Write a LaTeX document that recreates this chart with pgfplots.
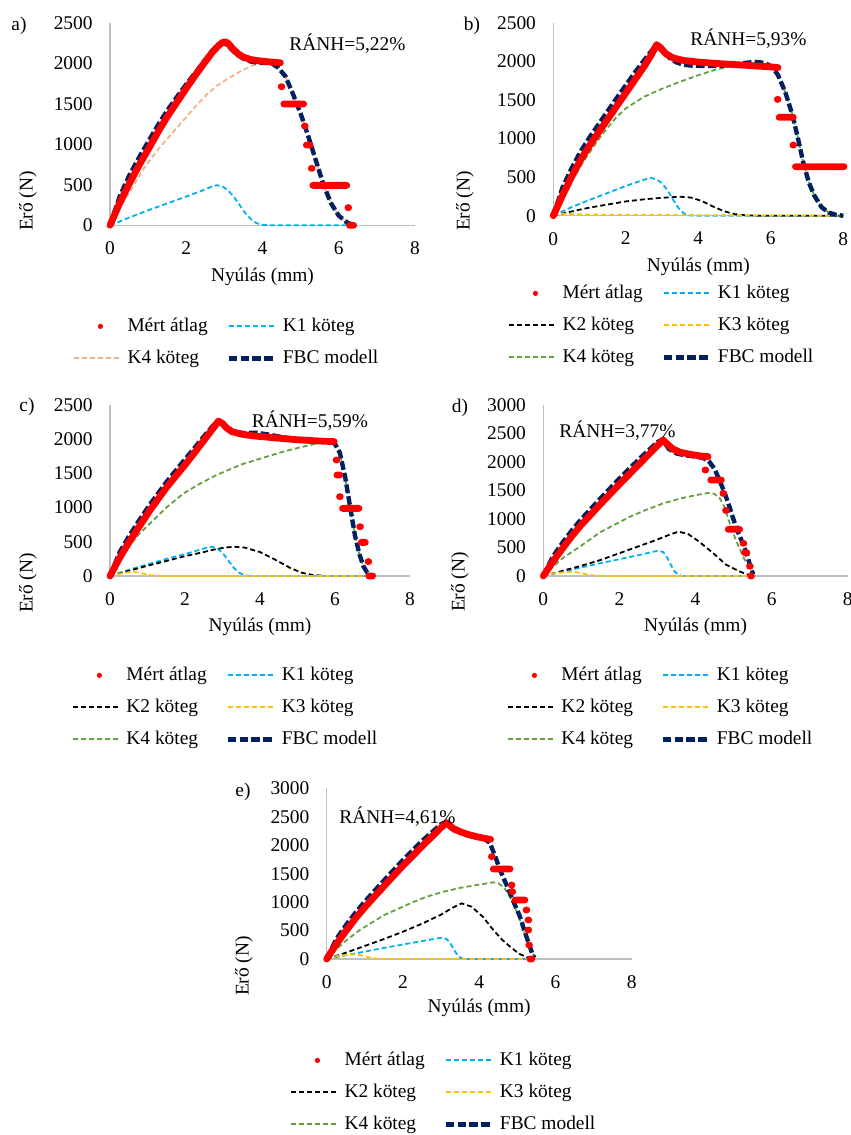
\documentclass[border=0pt]{standalone}
\usepackage{fontspec}
\setmainfont{Liberation Serif}
\usepackage{pgfplots}
\pgfplotsset{compat=1.18}
\definecolor{axgray}{HTML}{BFBFBF}
\definecolor{mred}{HTML}{FF0000}
\definecolor{konec}{HTML}{00B0F0}
\definecolor{kthreec}{HTML}{FFC000}
\definecolor{kfourc}{HTML}{64A040}
\definecolor{kfourac}{HTML}{F4B183}
\definecolor{fbcc}{HTML}{002060}
\newcommand\fs{\fontsize{9.7}{11.6}\selectfont}
\tikzset{
 mert/.style={draw=mred, line width=3.4pt, line cap=round, line join=round},
 kone/.style={draw=konec, line width=0.9pt, dash pattern=on 2.5pt off 1.5pt},
 ktwo/.style={draw=black, line width=0.9pt, dash pattern=on 2.5pt off 1.5pt},
 kthree/.style={draw=kthreec, line width=0.9pt, dash pattern=on 2.5pt off 1.5pt},
 kfour/.style={draw=kfourc, line width=0.9pt, dash pattern=on 2.5pt off 1.5pt},
 kfoura/.style={draw=kfourac, line width=0.9pt, dash pattern=on 2.5pt off 1.5pt},
 fbc/.style={draw=fbcc, line width=2.2pt, dash pattern=on 4.3pt off 1.6pt},
}
\newcommand\leg[1]{\addlegendimage{legend image code/.code={\draw[#1, line width=1.05pt] (0pt,0pt) -- (23.5pt,0pt);}}}
\newcommand\legfbc{\addlegendimage{legend image code/.code={\draw[fbc] (0pt,0pt) -- (23.5pt,0pt);}}}
\newcommand\legmert{\addlegendimage{legend image code/.code={\path[draw=none] (0pt,0pt) -- (23.5pt,0pt); \fill[mred, draw=none] (13pt,0pt) circle (1.3pt);}}}
\pgfplotsset{
 panel/.style={
  scale only axis, xmin=0, xmax=8, ymin=0,
  xtick={0,2,4,6,8}, ytick distance=500,
  axis x line*=bottom, axis y line*=left,
  axis line style={draw=axgray, line width=0.7pt, -},
  major tick length=0pt, tick style={draw=none},
  tick label style={font=\fs},
  yticklabel style={inner sep=0pt, anchor=east, xshift=-8.5pt},
  xticklabel style={inner sep=0pt, anchor=north, yshift=-8pt},
  /pgf/number format/assume math mode=true,
  /pgf/number format/1000 sep={},
  label style={font=\fs},
  xlabel={Nyúlás (mm)}, ylabel={Erő (N)},
  clip=false, unbounded coords=jump,
  legend columns=2, legend cell align=left,
  legend style={draw=none, fill=none, inner sep=0pt, font=\fs, anchor=north west, row sep=7pt,
     nodes={inner sep=0pt, text height=7pt, text depth=2pt},
     /tikz/every odd column/.append style={column sep=2.5pt},
     /tikz/every even column/.append style={column sep=9.4pt}},
 },
}
\begin{document}
\begin{tikzpicture}[font=\fs]
\useasboundingbox (0,0) rectangle (425.5pt,-567.5pt);
% ---------------- a ----------------
\begin{axis}[panel, at={(55pt,-112.65pt)}, anchor=origin, width=152.5pt, height=101.3pt, ymax=2500,
  xlabel style={at={(axis description cs:0.5,-0.255)}, anchor=center},
  ylabel style={at={(axis description cs:-0.2689,0.12)}, anchor=center},
  legend style={at={(axis description cs:-0.1213,-0.4526)}}]
\legmert\addlegendentry{Mért átlag}
\leg{kone}\addlegendentry{K1 köteg}
\leg{kfoura}\addlegendentry{K4 köteg}
\legfbc\addlegendentry{FBC modell}
\addplot[kone, forget plot] coordinates {(0,0)(0.5,95)(1,185)(1.5,270)(2,355)(2.4,425)(2.65,475)(2.8,495)(2.95,480)(3.1,430)(3.25,350)(3.4,250)(3.55,150)(3.7,75)(3.85,25)(4.0,5)(4.2,0)(6.4,0)};
\addplot[kfoura, forget plot] coordinates {(0,0)(0.25,210)(0.5,400)(0.87,690)(1.25,930)(1.75,1200)(2.25,1470)(2.55,1620)(2.8,1720)(3.06,1800)(3.4,1895)(3.7,1965)(4.0,2008)(4.2,2005)(4.4,1950)(4.6,1840)(4.8,1620)(5.0,1380)(5.2,1100)(5.4,800)(5.6,500)(5.8,270)(6.0,120)(6.2,40)(6.35,8)(6.45,0)};
\addplot[fbc, forget plot] coordinates {(0,0)(0.25,350)(0.5,610)(0.79,860)(1.0,1030)(1.27,1245)(1.5,1415)(1.75,1580)(2.0,1740)(2.25,1890)(2.5,2045)(2.7,2160)(2.85,2225)(3.0,2245)(3.1,2215)(3.2,2165)(3.35,2100)(3.5,2055)(3.7,2020)(3.9,2005)(4.1,2005)(4.25,1995)(4.4,1950)(4.6,1840)(4.8,1620)(5.0,1380)(5.2,1100)(5.4,800)(5.6,500)(5.8,270)(6.0,120)(6.2,40)(6.35,8)(6.45,0)};
\addplot[mert, forget plot] coordinates {(0,0)(0.25,270)(0.5,510)(0.79,765)(1.0,935)(1.27,1160)(1.5,1340)(1.75,1515)(2.0,1690)(2.25,1860)(2.5,2020)(2.7,2145)(2.85,2220)(2.95,2255)(3.02,2265)(3.1,2245)(3.2,2190)(3.35,2120)(3.5,2075)(3.7,2045)(3.9,2030)(4.1,2020)(4.3,2012)(4.47,2005)
 (4.5,nan)(4.49,1710)(4.51,1710)(4.5,nan)(4.56,1497)(5.08,1497)(5.1,nan)(5.1,1225)(5.12,1225)(5.1,nan)(5.15,990)(5.25,990)(5.3,nan)(5.28,703)(5.30,703)(5.3,nan)(5.32,493)(6.21,493)(6.2,nan)(6.24,218)(6.26,218)(6.2,nan)(6.28,0)(6.39,0)};
\end{axis}
% ---------------- b ----------------
\begin{axis}[panel, at={(276.65pt,-107.85pt)}, anchor=origin, width=145pt, height=96.5pt, ymax=2500,
  xlabel style={at={(axis description cs:0.5,-0.266)}, anchor=center},
  ylabel style={at={(axis description cs:-0.3045,0.076)}, anchor=center},
  legend style={at={(axis description cs:-0.1562,-0.3539)}}]
\legmert\addlegendentry{Mért átlag}
\leg{kone}\addlegendentry{K1 köteg}
\leg{ktwo}\addlegendentry{K2 köteg}
\leg{kthree}\addlegendentry{K3 köteg}
\leg{kfour}\addlegendentry{K4 köteg}
\legfbc\addlegendentry{FBC modell}
\addplot[kone, forget plot] coordinates {(0,0)(0.5,110)(1,205)(1.5,295)(2,385)(2.4,450)(2.67,492)(2.85,470)(3.0,420)(3.15,330)(3.3,210)(3.45,100)(3.6,30)(3.75,5)(3.9,0)(8,0)};
\addplot[ktwo, forget plot] coordinates {(0,0)(0.5,55)(1,105)(1.5,145)(2,185)(2.5,212)(3.0,232)(3.5,246)(3.8,235)(4.1,190)(4.4,120)(4.7,60)(5.0,20)(5.3,5)(5.6,0)(8,0)};
\addplot[kthree, forget plot] coordinates {(0,0)(0.2,25)(0.5,22)(1.0,15)(2,10)(4,6)(6,3)(7.9,0)};
\addplot[kfour, forget plot] coordinates {(0,0)(0.25,230)(0.5,440)(0.75,640)(1.0,820)(1.25,990)(1.5,1140)(1.75,1280)(2.0,1390)(2.5,1540)(3.0,1645)(3.5,1736)(4.0,1820)(4.5,1895)(5.0,1945)(5.33,1965)(5.66,1986)(5.85,1975)(6.05,1920)(6.2,1820)(6.4,1600)(6.6,1300)(6.75,1000)(6.9,680)(7.05,430)(7.2,260)(7.4,110)(7.6,40)(7.8,10)(8.0,0)};
\addplot[fbc, forget plot] coordinates {(0,0)(0.25,360)(0.5,610)(0.75,830)(1.0,1015)(1.25,1185)(1.5,1355)(1.75,1525)(2.0,1690)(2.25,1855)(2.5,2010)(2.7,2130)(2.85,2215)(3.0,2140)(3.2,2045)(3.4,1985)(3.6,1955)(3.8,1945)(4.2,1940)(4.6,1942)(5.0,1958)(5.3,1980)(5.6,1992)(5.85,1978)(6.05,1920)(6.2,1820)(6.4,1600)(6.6,1300)(6.75,1000)(6.9,680)(7.05,430)(7.2,260)(7.4,110)(7.6,40)(7.8,10)(8.0,0)};
\addplot[mert, forget plot] coordinates {(0,0)(0.25,260)(0.5,500)(0.75,720)(1.0,910)(1.25,1080)(1.5,1250)(1.75,1420)(2.0,1590)(2.25,1760)(2.5,1930)(2.7,2080)(2.85,2215)(2.95,2180)(3.1,2100)(3.3,2045)(3.6,2010)(4.0,1990)(4.5,1972)(5.0,1958)(5.5,1942)(6.0,1928)(6.2,1918)
 (6.2,nan)(6.18,1507)(6.20,1507)(6.2,nan)(6.23,1274)(6.62,1274)(6.6,nan)(6.61,915)(6.63,915)(6.6,nan)(6.68,635)(8.02,635)};
\end{axis}
% ---------------- c ----------------
\begin{axis}[panel, at={(55pt,-288pt)}, anchor=origin, width=150pt, height=85.5pt, ymax=2500,
  xlabel style={at={(axis description cs:0.5,-0.298)}, anchor=center},
  ylabel style={at={(axis description cs:-0.2733,-0.041)}, anchor=center},
  legend style={at={(axis description cs:-0.1267,-0.5263)}}]
\legmert\addlegendentry{Mért átlag}
\leg{kone}\addlegendentry{K1 köteg}
\leg{ktwo}\addlegendentry{K2 köteg}
\leg{kthree}\addlegendentry{K3 köteg}
\leg{kfour}\addlegendentry{K4 köteg}
\legfbc\addlegendentry{FBC modell}
\addplot[kone, forget plot] coordinates {(0,0)(0.5,90)(1,170)(1.5,250)(2,320)(2.4,385)(2.67,429)(2.85,410)(3.0,340)(3.15,230)(3.3,120)(3.45,45)(3.6,10)(3.75,0)(7.0,0)};
\addplot[ktwo, forget plot] coordinates {(0,0)(0.5,75)(1,150)(1.5,220)(2,290)(2.5,350)(2.67,375)(3.0,410)(3.29,429)(3.6,415)(4.0,350)(4.4,240)(4.8,120)(5.1,50)(5.4,15)(5.8,0)(7.0,0)};
\addplot[kthree, forget plot] coordinates {(0,0)(0.3,40)(0.62,63)(0.85,40)(1.05,15)(1.25,3)(1.5,0)(7,0)};
\addplot[kfour, forget plot] coordinates {(0,0)(0.25,230)(0.5,430)(0.75,600)(1.07,770)(1.5,1000)(1.96,1208)(2.4,1350)(2.84,1477)(3.5,1630)(4.18,1745)(4.6,1815)(5.07,1881)(5.5,1935)(5.78,1964)(5.9,1958)(6.0,1930)(6.13,1800)(6.27,1450)(6.4,1020)(6.53,600)(6.65,320)(6.76,140)(6.86,50)(6.95,15)(7.07,0)};
\addplot[fbc, forget plot] coordinates {(0,0)(0.25,340)(0.5,575)(0.75,790)(1.07,1050)(1.5,1370)(1.96,1680)(2.25,1870)(2.5,2040)(2.75,2200)(2.89,2262)(3.0,2225)(3.1,2170)(3.3,2105)(3.6,2090)(3.9,2095)(4.2,2070)(4.6,2030)(5.0,2000)(5.5,1978)(5.9,1962)(6.0,1930)(6.13,1800)(6.27,1450)(6.4,1020)(6.53,600)(6.65,320)(6.76,140)(6.86,50)(6.95,15)(7.07,0)};
\addplot[mert, forget plot] coordinates {(0,0)(0.25,260)(0.49,478)(0.75,700)(1.07,965)(1.5,1290)(1.96,1598)(2.25,1800)(2.5,1980)(2.75,2160)(2.89,2265)(3.0,2230)(3.1,2170)(3.25,2110)(3.5,2075)(3.8,2050)(4.2,2030)(4.6,2010)(5.0,1992)(5.5,1976)(5.98,1964)
 (6.0,nan)(6.03,1696)(6.05,1696)(6.0,nan)(6.05,1476)(6.13,1476)(6.1,nan)(6.12,1160)(6.14,1160)(6.1,nan)(6.2,989)(6.64,989)(6.6,nan)(6.66,721)(6.68,721)(6.6,nan)(6.7,492)(6.81,492)(6.8,nan)(6.88,210)(6.90,210)(6.9,nan)(6.9,0)(7.0,0)};
\end{axis}
% ---------------- d ----------------
\begin{axis}[panel, at={(271.65pt,-288pt)}, anchor=origin, width=152.2pt, height=85.5pt, ymax=3000,
  xlabel style={at={(axis description cs:0.5,-0.298)}, anchor=center},
  ylabel style={at={(axis description cs:-0.2737,-0.035)}, anchor=center},
  legend style={at={(axis description cs:-0.1193,-0.5263)}}]
\legmert\addlegendentry{Mért átlag}
\leg{kone}\addlegendentry{K1 köteg}
\leg{ktwo}\addlegendentry{K2 köteg}
\leg{kthree}\addlegendentry{K3 köteg}
\leg{kfour}\addlegendentry{K4 köteg}
\legfbc\addlegendentry{FBC modell}
\addplot[kone, forget plot] coordinates {(0,0)(0.5,75)(1,150)(1.5,225)(2,295)(2.5,365)(2.85,420)(3.02,444)(3.15,420)(3.25,330)(3.35,200)(3.45,80)(3.55,20)(3.65,0)(5.5,0)};
\addplot[ktwo, forget plot] coordinates {(0,0)(0.5,90)(1,180)(1.5,280)(2,400)(2.5,520)(3.0,640)(3.3,720)(3.55,778)(3.8,740)(4.1,600)(4.47,398)(4.8,200)(5.08,105)(5.3,40)(5.43,18)(5.55,0)};
\addplot[kthree, forget plot] coordinates {(0,0)(0.3,50)(0.6,70)(0.79,76)(1.0,50)(1.2,20)(1.4,5)(1.6,0)(5.5,0)};
\addplot[kfour, forget plot] coordinates {(0,0)(0.25,160)(0.5,310)(0.96,515)(1.5,770)(2.28,1041)(2.7,1160)(3.15,1275)(3.6,1360)(4.03,1421)(4.38,1462)(4.5,1440)(4.64,1363)(4.77,1200)(4.9,924)(5.05,650)(5.25,339)(5.47,76)(5.55,20)};
\addplot[fbc, forget plot] coordinates {(0,0)(0.25,340)(0.5,580)(0.75,800)(1.0,1000)(1.5,1360)(2.0,1710)(2.5,2040)(3.0,2350)(3.12,2390)(3.3,2230)(3.5,2150)(3.7,2120)(4.0,2095)(4.2,2070)(4.35,2015)(4.5,1880)(4.65,1650)(4.77,1450)(4.9,1200)(5.0,990)(5.1,800)(5.25,560)(5.35,380)(5.47,105)(5.52,30)};
\addplot[mert, forget plot] coordinates {(0,0)(0.25,250)(0.5,480)(0.75,700)(1.0,900)(1.5,1260)(2.0,1610)(2.5,1950)(3.0,2290)(3.15,2386)(3.25,2320)(3.4,2230)(3.6,2170)(3.9,2130)(4.2,2100)(4.33,2094)
 (4.3,nan)(4.25,1860)(4.27,1860)(4.3,nan)(4.4,1684)(4.68,1684)(4.7,nan)(4.72,1450)(4.74,1450)(4.7,nan)(4.79,1150)(4.81,1150)(4.8,nan)(4.86,819)(5.16,819)(5.2,nan)(5.25,573)(5.27,573)(5.2,nan)(5.29,409)(5.35,409)(5.4,nan)(5.42,170)(5.44,170)(5.4,nan)(5.45,0)(5.47,0)};
\end{axis}
% ---------------- e ----------------
\begin{axis}[panel, at={(163.35pt,-479.5pt)}, anchor=origin, width=152.5pt, height=85.35pt, ymax=3000,
  xlabel style={at={(axis description cs:0.5,-0.287)}, anchor=center},
  ylabel style={at={(axis description cs:-0.2711,-0.041)}, anchor=center},
  legend style={at={(axis description cs:-0.1203,-0.539)}}]
\legmert\addlegendentry{Mért átlag}
\leg{kone}\addlegendentry{K1 köteg}
\leg{ktwo}\addlegendentry{K2 köteg}
\leg{kthree}\addlegendentry{K3 köteg}
\leg{kfour}\addlegendentry{K4 köteg}
\legfbc\addlegendentry{FBC modell}
\addplot[kone, forget plot] coordinates {(0,0)(0.5,65)(1,130)(1.5,195)(2,255)(2.5,315)(2.85,355)(3.02,375)(3.15,350)(3.25,270)(3.35,150)(3.45,50)(3.55,10)(3.65,0)(5.4,0)};
\addplot[ktwo, forget plot] coordinates {(0,0)(0.5,110)(1,230)(1.5,350)(2,480)(2.5,620)(3.0,780)(3.3,900)(3.54,978)(3.8,920)(4.1,740)(4.37,510)(4.6,340)(4.81,217)(5.05,90)(5.33,12)(5.45,0)};
\addplot[kthree, forget plot] coordinates {(0,0)(0.3,55)(0.6,78)(0.79,82)(1.0,50)(1.2,15)(1.4,3)(1.6,0)(5.4,0)};
\addplot[kfour, forget plot] coordinates {(0,0)(0.25,170)(0.5,320)(0.87,510)(1.5,770)(2.19,978)(2.6,1090)(3.06,1183)(3.5,1250)(3.93,1300)(4.37,1348)(4.5,1330)(4.63,1271)(4.77,1140)(4.9,978)(5.03,760)(5.16,510)(5.27,300)(5.38,129)(5.45,50)};
\addplot[fbc, forget plot] coordinates {(0,0)(0.25,350)(0.5,590)(0.75,810)(1.0,1010)(1.5,1380)(2.0,1740)(2.5,2075)(3.0,2370)(3.12,2405)(3.35,2260)(3.6,2210)(3.9,2170)(4.1,2130)(4.28,2040)(4.4,1840)(4.55,1560)(4.7,1330)(4.81,1154)(4.95,930)(5.07,744)(5.2,470)(5.33,217)(5.4,80)(5.45,20)};
\addplot[mert, forget plot] coordinates {(0,0)(0.25,260)(0.5,490)(0.75,710)(1.0,910)(1.5,1280)(2.0,1640)(2.5,1980)(3.0,2310)(3.15,2396)(3.3,2300)(3.5,2238)(3.7,2190)(3.93,2150)(4.15,2120)(4.3,2103)
 (4.3,nan)(4.32,1799)(4.34,1799)(4.3,nan)(4.37,1582)(4.81,1582)(4.8,nan)(4.84,1300)(4.86,1300)(4.8,nan)(4.86,1183)(4.88,1183)(4.9,nan)(4.94,1037)(5.2,1037)(5.2,nan)(5.23,861)(5.25,861)(5.2,nan)(5.28,686)(5.30,686)(5.3,nan)(5.28,510)(5.30,510)(5.3,nan)(5.30,246)(5.32,246)(5.3,nan)(5.33,0)(5.38,0)};
\end{axis}
% ---------------- panel texts ----------------
\node[anchor=base] at (9.5pt,-15pt) {a)};
\node[anchor=base] at (236pt,-15pt) {b)};
\node[anchor=base] at (13.5pt,-205.8pt) {c)};
\node[anchor=base] at (230pt,-206.2pt) {d)};
\node[anchor=base] at (121.5pt,-398pt) {e)};
\node[anchor=base] at (173.75pt,-25pt) {RÁNH=5,22\%};
\node[anchor=base] at (374.25pt,-22.5pt) {RÁNH=5,93\%};
\node[anchor=base] at (155pt,-213.6pt) {RÁNH=5,59\%};
\node[anchor=base] at (308.75pt,-218.8pt) {RÁNH=3,77\%};
\node[anchor=base] at (198.75pt,-411.6pt) {RÁNH=4,61\%};
\end{tikzpicture}
\end{document}
